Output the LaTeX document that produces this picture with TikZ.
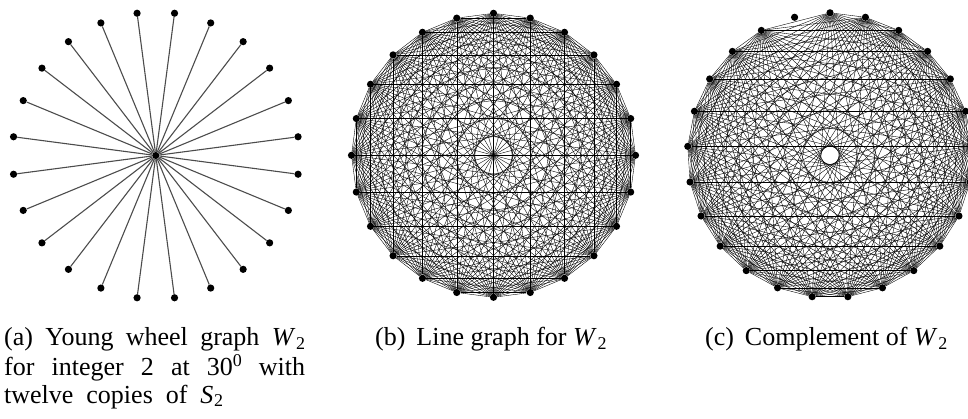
\documentclass[tikz,border=0pt]{standalone}
\usepackage{fontspec}
\setmainfont{Liberation Serif}
\usetikzlibrary{calc}
\newcommand{\subtwo}[1]{\textit{#1}\kern0.03em\raisebox{-0.15em}{\fontsize{18}{18}\selectfont 2}}
\newcommand{\suptext}[1]{\raisebox{0.32em}{\fontsize{18}{18}\selectfont #1}}
\begin{document}
\begin{tikzpicture}[x=1pt,y=-1pt]
\tikzset{
  dot/.style={circle, fill=black, draw=none, inner sep=0pt, minimum size=7.2pt},
  spoke/.style={draw=black!70, line width=1.1pt},
  kedge/.style={draw=black, line width=0.38pt},
  captext/.style={anchor=base west, inner sep=0pt, font=\fontsize{26}{30}\selectfont}
}
\useasboundingbox (0,0) rectangle (968,418);
% ---------- (a) star W2 ----------
\node[dot] (a) at (155.8,155.5) {};
\foreach \i in {0,...,23}{
  \pgfmathsetmacro\ang{7.5+15*\i}
  \node[dot] (a\i) at ([shift={(155.8,155.5)}]\ang:143.5pt) {};
}
\foreach \i in {0,...,23}{ \draw[spoke] (a) -- (a\i); }
% ---------- (b) line graph: K24 ----------
\foreach \i in {0,...,23}{
  \pgfmathsetmacro\ang{90+15*\i}
  \node[dot] (b\i) at ([shift={(493.5,155.3)}]\ang:142pt) {};
}
\foreach \i in {0,...,22}{
  \pgfmathtruncatemacro\j{\i+1}
  \foreach \k in {\j,...,23}{ \draw[kedge] (b\i) -- (b\k); }
}
% ---------- (c) complement: K24 + isolated vertex ----------
\foreach \i in {0,...,24}{
  \pgfmathsetmacro\ang{90+14.4*\i}
  \node[dot] (c\i) at ([shift={(830,155.3)}]\ang:142.5pt) {};
}
\foreach \i in {0,2,3,...,23}{
  \pgfmathtruncatemacro\j{max(\i+1,2)}
  \foreach \k in {\j,...,24}{ \draw[kedge] (c\i) -- (c\k); }
}
% ---------- captions ----------
\node[captext] (capa1) at (4,345.7) {\makebox[301pt][s]{(a) Young wheel graph \subtwo{W}}};
\node[captext] (capa2) at (4,375) {\makebox[301pt][s]{for integer 2 at 30\suptext{0} with}};
\node[captext] (capa3) at (4,403) {\makebox[219pt][s]{twelve copies of \subtwo{S}}};
\node[captext] (capb) at (375,345.7) {(b)\hspace{0.42em}Line graph for \subtwo{W}};
\node[captext] (capc) at (705,345.7) {(c)\hspace{0.42em}Complement of \subtwo{W}};
\end{tikzpicture}
\end{document}
